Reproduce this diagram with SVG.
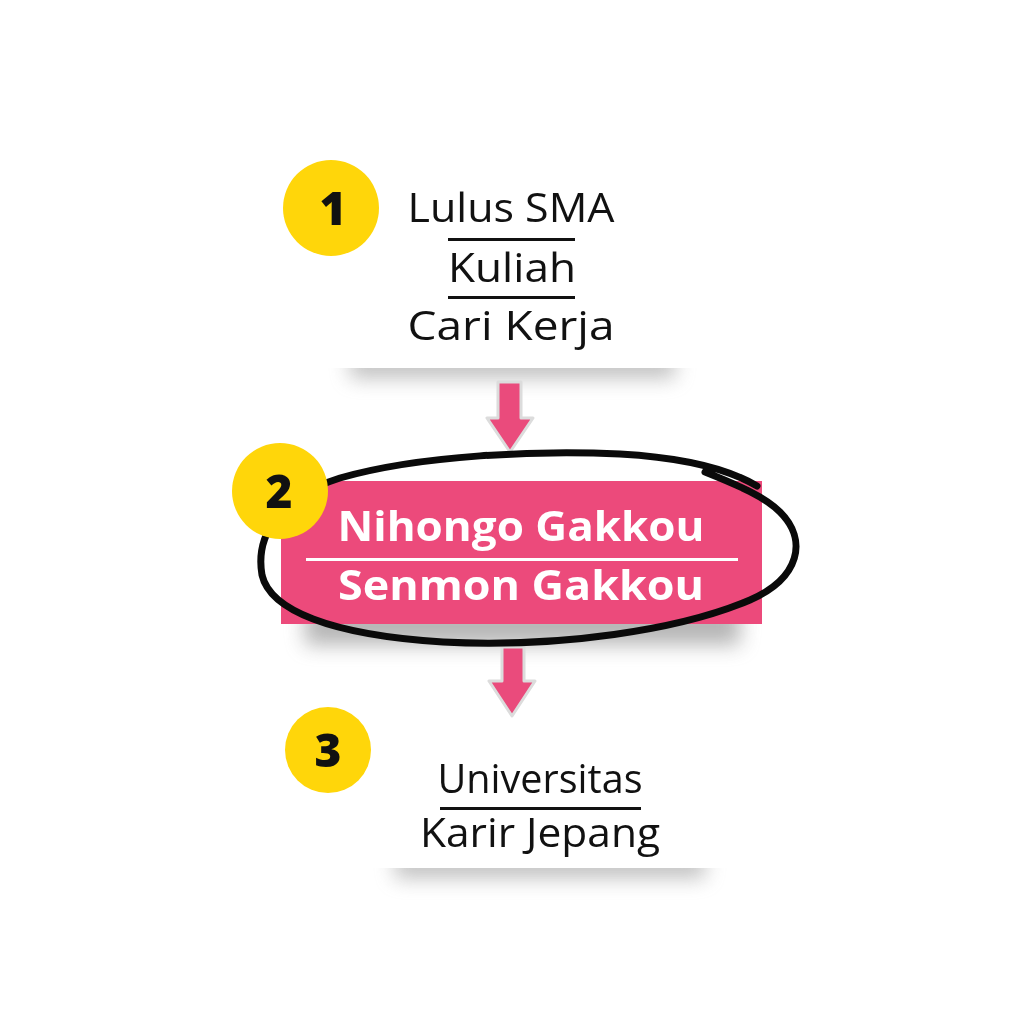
<svg xmlns="http://www.w3.org/2000/svg" width="1024" height="1024" viewBox="0 0 1024 1024">
<defs>
<style>
.t{font-family:"Open Sans","Liberation Sans",sans-serif;font-size:41px;fill:#111;text-anchor:middle}
.b{font-family:"Open Sans","Liberation Sans",sans-serif;font-weight:700;font-size:41px;fill:#fff;text-anchor:middle}
.num{font-family:"Open Sans","Liberation Sans",sans-serif;font-weight:800;font-size:46px;fill:#111;text-anchor:middle}
.badge{fill:#FFD60A}
.arrow{fill:#EA4B7C;stroke:#dcdcdc;stroke-width:3;stroke-linejoin:round}
</style>
<filter id="blur" x="-30%" y="-200%" width="160%" height="500%"><feGaussianBlur stdDeviation="10"/></filter>
<clipPath id="c1"><rect x="300" y="368" width="420" height="70"/></clipPath>
<clipPath id="c2"><rect x="250" y="624" width="560" height="90"/></clipPath>
<clipPath id="c3"><rect x="340" y="868" width="420" height="70"/></clipPath>
</defs>
<rect width="1024" height="1024" fill="#fff"/>

<g id="shadows" opacity="0.55">
<rect x="350" y="352" width="325" height="26" fill="#8c8c8c" filter="url(#blur)" clip-path="url(#c1)"/>
<rect x="305" y="605" width="435" height="40" fill="#7a7a7a" filter="url(#blur)" clip-path="url(#c2)"/>
<rect x="395" y="852" width="310" height="26" fill="#8c8c8c" filter="url(#blur)" clip-path="url(#c3)"/>
</g>

<g id="connectors">
<path class="arrow" d="M498 382 L521 382 L521 418 L533 418 L510 452 L487 418 L498 418 Z"/>
<path class="arrow" d="M502 647 L524 647 L524 681 L535 681 L512 716 L489 681 L502 681 Z"/>
</g>

<g id="node1">
<circle class="badge" cx="331" cy="208" r="48"/>
<text class="num" x="333" y="225">1</text>
<text class="t" x="511" y="222" textLength="207" lengthAdjust="spacingAndGlyphs">Lulus SMA</text>
<rect x="448" y="238" width="127" height="3" fill="#111"/>
<text class="t" x="512" y="282" textLength="128" lengthAdjust="spacingAndGlyphs">Kuliah</text>
<rect x="448" y="296" width="127" height="3" fill="#111"/>
<text class="t" x="511" y="340" textLength="207" lengthAdjust="spacingAndGlyphs">Cari Kerja</text>
</g>

<g id="node2">
<rect x="281" y="481" width="481" height="143" fill="#EC4A7B"/>
<text class="b" x="521" y="541" textLength="367" lengthAdjust="spacingAndGlyphs">Nihongo Gakkou</text>
<rect x="306" y="558" width="432" height="3" fill="#fff"/>
<text class="b" x="521" y="600" textLength="366" lengthAdjust="spacingAndGlyphs">Senmon Gakkou</text>
<path d="M757 486 C730 470 690 458 620 454 C540 450 420 455 340 478 C280 497 255 535 262 575 C270 610 330 635 443 642 C560 648 680 630 750 600 C800 578 808 540 780 512 C765 497 740 486 705 472" fill="none" stroke="#0a0a0a" stroke-width="7" stroke-linecap="round"/>
<circle class="badge" cx="280" cy="491" r="48"/>
<text class="num" x="279" y="508">2</text>
</g>

<g id="node3">
<circle class="badge" cx="328" cy="750" r="43"/>
<text class="num" x="328" y="767">3</text>
<text class="t" x="540" y="793" textLength="205" lengthAdjust="spacingAndGlyphs">Universitas</text>
<rect x="440" y="807" width="201" height="3" fill="#111"/>
<text class="t" x="540" y="847" textLength="240" lengthAdjust="spacingAndGlyphs">Karir Jepang</text>
</g>
</svg>
